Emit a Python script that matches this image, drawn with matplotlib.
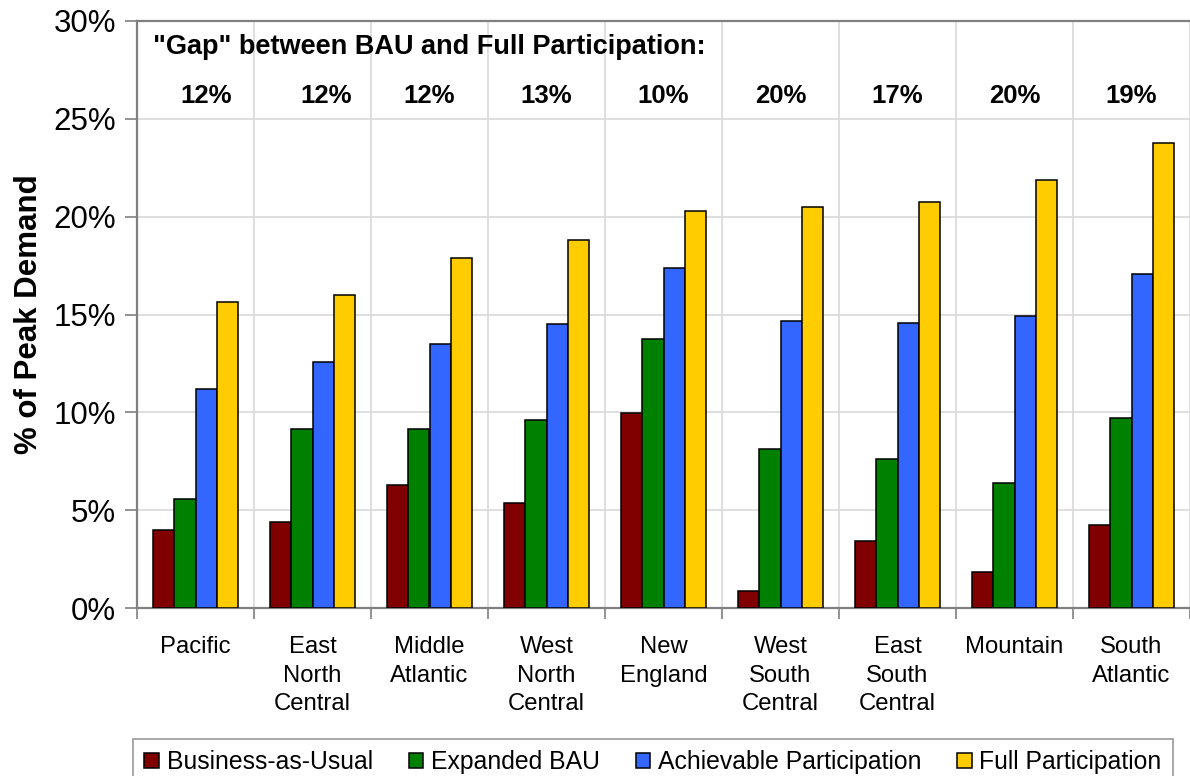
import matplotlib
matplotlib.use("Agg")
import matplotlib.pyplot as plt
from matplotlib.patches import Patch, Rectangle
import numpy as np

plt.rcParams['font.family'] = ['Liberation Sans', 'DejaVu Sans']

categories = ["Pacific", "East\nNorth\nCentral", "Middle\nAtlantic", "West\nNorth\nCentral",
              "New\nEngland", "West\nSouth\nCentral", "East\nSouth\nCentral", "Mountain",
              "South\nAtlantic"]
series_names = ["Business-as-Usual", "Expanded BAU", "Achievable Participation", "Full Participation"]
bau = [4.0, 4.4, 6.3, 5.35, 9.95, 0.85, 3.4, 1.85, 4.25]
expanded_bau = [5.55, 9.15, 9.15, 9.6, 13.75, 8.15, 7.6, 6.4, 9.7]
achievable = [11.2, 12.55, 13.5, 14.5, 17.4, 14.65, 14.55, 14.9, 17.05]
full = [15.65, 16.0, 17.9, 18.8, 20.3, 20.5, 20.75, 21.85, 23.75]
gap_labels = ["12%", "12%", "12%", "13%", "10%", "20%", "17%", "20%", "19%"]
gap_title = '"Gap" between BAU and Full Participation:'
yticks = [0, 5, 10, 15, 20, 25, 30]

colors = ["#800000", "#008000", "#3366FF", "#FFCC00"]
series = [bau, expanded_bau, achievable, full]

fig = plt.figure(figsize=(11.9, 7.76), dpi=100)
ax = fig.add_axes([137/1190, 1 - 608/776, 1 - 137/1190, (608 - 21)/776])

n = len(categories)
x = np.arange(n)
w = 0.18
for i, (vals, c, name) in enumerate(zip(series, colors, series_names)):
    ax.bar(x + (i - 1.5) * w, vals, width=w, color=c, edgecolor="black",
           linewidth=1.1, label=name, zorder=3)

ax.set_xlim(-0.5, n - 0.5)
ax.set_ylim(0, 30)
ax.set_yticks(yticks)
ax.set_yticklabels([f"{v}%" for v in yticks], fontsize=22.5)
ax.set_xticks(np.arange(n + 1) - 0.5)
ax.set_xticklabels([])
ax.set_xticks(x, minor=True)
ax.set_xticklabels(categories, minor=True, fontsize=17.2, linespacing=1.4)
ax.tick_params(axis='x', which='minor', length=0, pad=20)
ax.tick_params(axis='x', which='major', length=8, color="#808080", width=1.2)
ax.tick_params(axis='y', which='major', length=9, color="#808080", width=1.2, pad=6)

ax.grid(True, axis='y', color="#D9D9D9", linewidth=1.2, zorder=0)
ax.grid(True, axis='x', which='major', color="#D9D9D9", linewidth=1.2, zorder=0)
for s in ['left', 'bottom', 'top']:
    ax.spines[s].set_color("#808080")
    ax.spines[s].set_linewidth(1.6)
ax.spines['right'].set_visible(False)

ax.set_ylabel("% of Peak Demand", fontsize=22.5, fontweight='bold')
ax.yaxis.set_label_coords(-0.088, 0.5)

# white box behind the gap title
ax.add_patch(Rectangle((-0.45, 27.0), 6.4, 2.75, facecolor="white", edgecolor="none", zorder=1))
ax.text(-0.36, 28.65, gap_title, fontsize=19.5, fontweight='bold', ha='left', va='center', zorder=4)
offsets = [0.09, 0.12, 0, 0, 0, 0, 0, 0, 0]
for xi, lab, off in zip(x, gap_labels, offsets):
    ax.text(xi + off, 26.15, lab, fontsize=18.5, fontweight='bold', ha='center', va='center', zorder=4)

handles = [Patch(facecolor=c, edgecolor="black", linewidth=1.1) for c in colors]
leg = fig.legend(handles, series_names, loc='upper center', bbox_to_anchor=(653/1190, 1 - 739/776),
                 ncol=4, fontsize=17.8, frameon=True, fancybox=False, edgecolor="#808080",
                 handlelength=0.6, handleheight=0.6, handletextpad=0.3, columnspacing=1.45,
                 borderpad=0.45, borderaxespad=0)
leg.get_frame().set_linewidth(1.2)

fig.savefig("out.png", dpi=100)
